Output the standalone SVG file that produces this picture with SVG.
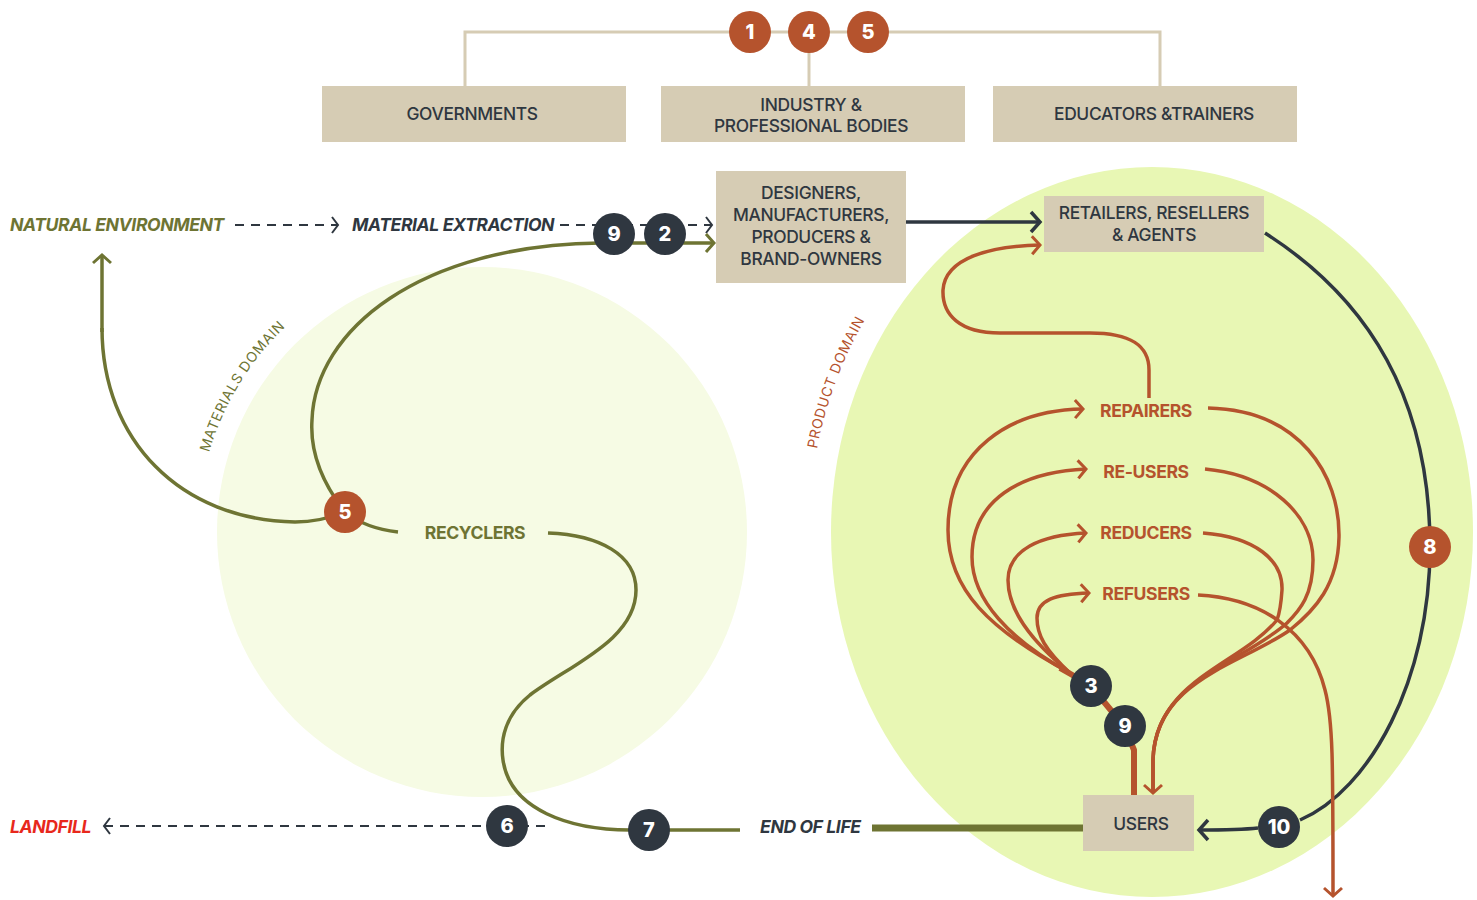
<svg xmlns="http://www.w3.org/2000/svg" width="1477" height="900" viewBox="0 0 1477 900">
<style>
.box{fill:#d6ccb4}
.bt{font-family:Inter,"Liberation Sans",sans-serif;font-size:17.4px;fill:#2f3740;text-anchor:middle;font-weight:500;letter-spacing:-0.35px}
.ol{fill:none;stroke:#6e7433;stroke-width:3.5}
.or{fill:none;stroke:#b5532d;stroke-width:3.5}
.dk{fill:none;stroke:#2f3740;stroke-width:3.5}
.dash{fill:none;stroke:#2f3740;stroke-width:2;stroke-dasharray:9 7}
.bd{fill:#2f3740}
.bo{fill:#b5532d}
.bn{font-family:Inter,"Liberation Sans",sans-serif;font-size:20px;font-weight:800;fill:#fff;text-anchor:middle}
.lab{font-family:Inter,"Liberation Sans",sans-serif;font-size:17.6px;font-weight:700;letter-spacing:-0.4px}
.it{font-style:italic}
.dom{font-family:Inter,"Liberation Sans",sans-serif;font-size:14px;letter-spacing:0.6px}
</style>
<defs>
<marker id="aor" viewBox="-12 -12 24 24" markerWidth="24" markerHeight="24" refX="0" refY="0" orient="auto" markerUnits="userSpaceOnUse"><path d="M-8,-9 L0,0 L-8,9" fill="none" stroke="#b5532d" stroke-width="3"/></marker>
<marker id="aol" viewBox="-12 -12 24 24" markerWidth="24" markerHeight="24" refX="0" refY="0" orient="auto" markerUnits="userSpaceOnUse"><path d="M-8,-9 L0,0 L-8,9" fill="none" stroke="#6e7433" stroke-width="3"/></marker>
<marker id="adk" viewBox="-12 -12 24 24" markerWidth="24" markerHeight="24" refX="0" refY="0" orient="auto" markerUnits="userSpaceOnUse"><path d="M-9,-10 L0,0 L-9,10" fill="none" stroke="#2f3740" stroke-width="3.5"/></marker>
<marker id="ads" viewBox="-12 -12 24 24" markerWidth="24" markerHeight="24" refX="0" refY="0" orient="auto" markerUnits="userSpaceOnUse"><path d="M-6,-8 L0,0 L-6,8" fill="none" stroke="#2f3740" stroke-width="2"/></marker>
<path id="matarc" d="M202.3,481.7 A284,284 0 0 1 340,286"/>
<path id="prodarc" d="M814.2,464.6 A343,388 0 0 1 980.5,196"/>
</defs>

<g id="domains">
<circle cx="482" cy="532" r="265" fill="#f6fbe4"/>
<ellipse cx="1152" cy="532" rx="321" ry="365" fill="#e8f7b4"/>
<text class="dom" fill="#6e7433"><textPath href="#matarc" startOffset="30">MATERIALS DOMAIN</textPath></text>
<text class="dom" fill="#b5532d"><textPath href="#prodarc" startOffset="16">PRODUCT DOMAIN</textPath></text>
</g>

<g id="connectors">
<polyline points="465,86 465,32 1160,32 1160,86" fill="none" stroke="#d6ccb4" stroke-width="3"/>
<line x1="809" y1="32" x2="809" y2="86" stroke="#d6ccb4" stroke-width="3"/>
<line class="dash" x1="235" y1="225" x2="338" y2="225" marker-end="url(#ads)"/>
<line class="dash" x1="560" y1="225" x2="712" y2="225" marker-end="url(#ads)"/>
<line class="dash" x1="545" y1="826" x2="104" y2="826" marker-end="url(#ads)"/>
<line class="dk" x1="906" y1="222" x2="1040" y2="222" marker-end="url(#adk)"/>
<path class="dk" d="M1265,233 C1370,300 1430,400 1430,547 C1430,680 1370,790 1300,820"/>
<path class="dk" d="M1258,828 C1240,830 1220,830 1199,830" marker-end="url(#adk)"/>
<path class="ol" d="M102,328 C102,440 180,520 295,522 C315,522 330,518 345,512" />
<line class="ol" x1="102" y1="332" x2="102" y2="255" marker-end="url(#aol)"/>
<path class="ol" d="M345,512 C360,524 380,530 398,532"/>
<path class="ol" d="M345,512 C320,480 310,450 312,420 C315,330 420,245 600,243 L714,243" marker-end="url(#aol)"/>
<path class="ol" d="M548,533 C600,535 636,555 636,590 C636,640 570,665 530,695 C505,715 500,740 503,760 C510,810 570,830 630,830 L740,830"/>
<line x1="872" y1="828" x2="1083" y2="828" stroke="#6e7433" stroke-width="7"/>
<path class="or" d="M1149,398 L1149,370 C1149,345 1130,333 1090,333 L1000,333 C960,333 942,315 943,290 C945,258 990,246 1040,245" marker-end="url(#aor)"/>
<path class="or" d="M1070,673 C990,630 948,590 948,530 C948,450 1010,410 1083,409" marker-end="url(#aor)"/>
<path class="or" d="M1070,673 C1010,640 972,600 972,557 C972,500 1020,472 1086,469" marker-end="url(#aor)"/>
<path class="or" d="M1070,673 C1030,640 1008,610 1008,580 C1008,550 1040,535 1086,533" marker-end="url(#aor)"/>
<path class="or" d="M1070,673 C1045,650 1037,635 1037,618 C1037,600 1055,594 1089,593" marker-end="url(#aor)"/>
<path class="or" d="M1208,408 C1300,410 1340,475 1339,537 C1338,585 1315,610 1290,630 C1240,665 1155,680 1153,760 L1153,793" marker-end="url(#aor)"/>
<path class="or" d="M1205,469 C1270,475 1313,515 1313,560 C1313,595 1300,610 1287,623 C1240,665 1155,680 1153,760 L1153,793"/>
<path class="or" d="M1203,533 C1255,537 1283,560 1282,590 C1281,605 1280,612 1277,620 C1240,665 1155,680 1153,760 L1153,793"/>
<path class="or" d="M1198,595 C1260,598 1310,630 1325,690 C1333,720 1333,760 1333,896" marker-end="url(#aor)"/>
<polyline points="1060,668 1090,685 1124,726 1134,750 1134,795" fill="none" stroke="#b5532d" stroke-width="6" stroke-linejoin="round"/>
</g>

<g id="governments"><rect class="box" x="322" y="86" width="304" height="56"/><text class="bt" x="472" y="120">GOVERNMENTS</text></g>
<g id="industry"><rect class="box" x="661" y="86" width="304" height="56"/><text class="bt" x="811" y="111">INDUSTRY &amp;</text><text class="bt" x="811" y="132">PROFESSIONAL BODIES</text></g>
<g id="educators"><rect class="box" x="993" y="86" width="304" height="56"/><text class="bt" x="1154" y="120">EDUCATORS &amp;TRAINERS</text></g>
<g id="designers"><rect class="box" x="716" y="171" width="190" height="112"/><text class="bt" x="811" y="199">DESIGNERS,</text><text class="bt" x="811" y="221">MANUFACTURERS,</text><text class="bt" x="811" y="243">PRODUCERS &amp;</text><text class="bt" x="811" y="265">BRAND-OWNERS</text></g>
<g id="retailers"><rect class="box" x="1044" y="196" width="220" height="56"/><text class="bt" x="1154" y="219">RETAILERS, RESELLERS</text><text class="bt" x="1154" y="241">&amp; AGENTS</text></g>
<g id="users"><rect class="box" x="1083" y="795" width="111" height="56"/><text class="bt" x="1141" y="830">USERS</text></g>

<g id="natural-environment"><text class="lab it" x="10" y="231" fill="#6e7433">NATURAL ENVIRONMENT</text></g>
<g id="material-extraction"><text class="lab it" x="352" y="231" fill="#2f3740">MATERIAL EXTRACTION</text></g>
<g id="landfill"><text class="lab it" x="10" y="833" fill="#e8281c">LANDFILL</text></g>
<g id="end-of-life"><text class="lab it" x="760" y="833" fill="#2f3740">END OF LIFE</text></g>
<g id="recyclers"><text class="lab" x="475" y="539" fill="#6e7433" text-anchor="middle">RECYCLERS</text></g>
<g id="repairers"><text class="lab" x="1146" y="417" fill="#b5532d" text-anchor="middle">REPAIRERS</text></g>
<g id="re-users"><text class="lab" x="1146" y="478" fill="#b5532d" text-anchor="middle">RE-USERS</text></g>
<g id="reducers"><text class="lab" x="1146" y="539" fill="#b5532d" text-anchor="middle">REDUCERS</text></g>
<g id="refusers"><text class="lab" x="1146" y="600" fill="#b5532d" text-anchor="middle">REFUSERS</text></g>

<g id="badges">
<circle class="bo" cx="750" cy="32" r="21"/><text class="bn" x="750" y="39">1</text>
<circle class="bo" cx="809" cy="32" r="21"/><text class="bn" x="809" y="39">4</text>
<circle class="bo" cx="868" cy="32" r="21"/><text class="bn" x="868" y="39">5</text>
<circle class="bd" cx="614" cy="234" r="21"/><text class="bn" x="614" y="241">9</text>
<circle class="bd" cx="665" cy="234" r="21"/><text class="bn" x="665" y="241">2</text>
<circle class="bo" cx="345" cy="512" r="21"/><text class="bn" x="345" y="519">5</text>
<circle class="bd" cx="1091" cy="686" r="21"/><text class="bn" x="1091" y="693">3</text>
<circle class="bd" cx="1125" cy="726" r="21"/><text class="bn" x="1125" y="733">9</text>
<circle class="bo" cx="1430" cy="547" r="21"/><text class="bn" x="1430" y="554">8</text>
<circle class="bd" cx="507" cy="826" r="21"/><text class="bn" x="507" y="833">6</text>
<circle class="bd" cx="649" cy="830" r="21"/><text class="bn" x="649" y="837">7</text>
<circle class="bd" cx="1279" cy="827" r="21"/><text class="bn" x="1279" y="834">10</text>
</g>
</svg>
